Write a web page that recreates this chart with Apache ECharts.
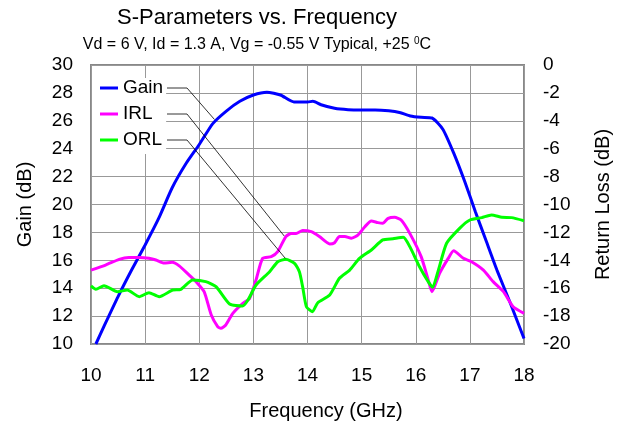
<!DOCTYPE html>
<html>
<head>
<meta charset="utf-8">
<script src="https://cdn.jsdelivr.net/npm/echarts@6/dist/echarts.min.js"></script>
<style>
  html, body { margin: 0; padding: 0; background: #fff; }
  #chart { width: 623px; height: 428px; }
</style>
</head>
<body>
<div id="chart"></div>
<script>
// frequency (GHz) / gain (dB)
const gainFreq = [10.09, 10.25, 10.5, 10.75, 11.0, 11.25, 11.5, 11.75, 12.0, 12.25, 12.5, 12.75, 13.0, 13.25,
  13.5, 13.75, 14.0, 14.1, 14.25, 14.5, 14.75, 15.0, 15.25, 15.5, 15.7, 15.9, 16.1, 16.3, 16.5, 16.7, 16.9,
  17.1, 17.3, 17.5, 17.75, 18.0];
const gainDb = [10.0, 11.35, 13.4, 15.3, 17.1, 19.0, 21.2, 22.9, 24.3, 25.8, 26.7, 27.4, 27.85, 28.05,
  27.85, 27.35, 27.35, 27.4, 27.15, 26.9, 26.8, 26.78, 26.78, 26.72, 26.6, 26.35, 26.25, 26.2, 25.4, 23.7, 21.7,
  19.5, 17.4, 15.3, 12.9, 10.4];

// input return loss (dB), right axis
const irlFreq = [10.0, 10.27, 10.52, 10.7, 10.9, 11.07, 11.2, 11.35, 11.5, 11.63, 11.81, 11.94, 12.09, 12.22,
  12.34, 12.4, 12.49, 12.62, 12.8, 12.93, 13.05, 13.17, 13.33, 13.45, 13.6, 13.7, 13.79, 13.91, 14.07, 14.22,
  14.41, 14.5, 14.59, 14.69, 14.81, 14.93, 15.06, 15.18, 15.3, 15.39, 15.49, 15.61, 15.73, 15.89, 16.1, 16.23,
  16.3, 16.44, 16.6, 16.7, 16.88, 17.03, 17.25, 17.43, 17.62, 17.8, 18.0];
const irlDb = [-14.7, -14.34, -13.93, -13.8, -13.8, -13.86, -13.98, -14.2, -14.14, -14.4, -15.05, -15.53, -16.25, -17.9,
  -18.75, -18.87, -18.64, -17.8, -17.1, -16.73, -15.4, -13.86, -13.74, -13.38, -12.3, -12.07, -12.07, -11.87, -11.95, -12.3,
  -12.83, -12.74, -12.3, -12.3, -12.42, -12.19, -11.59, -11.18, -11.3, -11.35, -10.99, -10.92, -11.11, -12.07, -13.74, -15.41,
  -16.25, -14.93, -13.86, -13.31, -13.86, -14.1, -14.7, -15.53, -16.25, -17.33, -17.8];

// output return loss (dB), right axis
const orlFreq = [10.0, 10.09, 10.24, 10.49, 10.67, 10.89, 11.07, 11.26, 11.51, 11.66, 11.88, 12.12, 12.31, 12.56,
  12.8, 12.9, 13.05, 13.3, 13.45, 13.6, 13.76, 13.85, 13.91, 13.98, 14.09, 14.19, 14.41, 14.59, 14.78, 14.96,
  15.18, 15.39, 15.58, 15.77, 15.89, 16.07, 16.23, 16.31, 16.41, 16.57, 16.81, 17.0, 17.22, 17.4, 17.59, 17.77, 18.0];
const orlDb = [-15.84, -16.08, -15.82, -16.25, -16.13, -16.61, -16.32, -16.61, -16.13, -16.08, -15.41, -15.53, -15.89, -17.13,
  -17.28, -16.85, -15.77, -14.82, -14.1, -13.93, -14.22, -14.82, -15.89, -17.33, -17.68, -17.04, -16.49, -15.29, -14.7, -13.86,
  -13.26, -12.54, -12.45, -12.35, -13.02, -14.46, -15.53, -15.94, -14.82, -12.78, -11.71, -11.11, -10.94, -10.75, -10.92, -10.94, -11.16];

// where the legend leader lines point to: [freq, value, yAxisIndex]
const leaderTargets = [[12.28, 26.1, 0], [13.57, -12.26, 1], [13.59, -13.86, 1]];

const FONT = 'Liberation Sans, Arial, sans-serif';
const zip = (xs, ys) => xs.map((x, i) => [x, ys[i]]);

const chart = echarts.init(document.getElementById('chart'));

const lineSeries = (name, data, color, yIdx) => ({
  name, type: 'line', yAxisIndex: yIdx, data,
  showSymbol: false, smooth: 0.2,
  lineStyle: { color, width: 3 }, itemStyle: { color }
});

const tickLabel = (margin) => ({ fontSize: 19, color: '#000', margin, fontFamily: FONT });
const axisName = { fontSize: 20, color: '#000', fontFamily: FONT };

chart.setOption({
  animation: false,
  backgroundColor: '#fff',
  textStyle: { fontFamily: FONT },
  grid: { left: 91, right: 99, top: 65, bottom: 84, show: true, borderColor: '#888', borderWidth: 2 },
  legend: {
    orient: 'vertical', left: 92, top: 78,
    padding: [0, 3, 4, 8], itemGap: 6,
    backgroundColor: '#fff',
    icon: 'rect', itemWidth: 18, itemHeight: 3,
    textStyle: { fontSize: 19, color: '#000', lineHeight: 20, fontFamily: FONT },
    data: ['Gain', 'IRL', 'ORL']
  },
  xAxis: {
    type: 'value', min: 10, max: 18, interval: 1,
    name: 'Frequency (GHz)', nameLocation: 'middle', nameGap: 57,
    nameTextStyle: Object.assign({ padding: [0, 0, 0, 37] }, axisName),
    axisLine: { show: false }, axisTick: { show: false },
    axisLabel: tickLabel(22),
    splitLine: { lineStyle: { color: '#999', width: 1 } }
  },
  yAxis: [{
    type: 'value', min: 10, max: 30, interval: 2, position: 'left',
    name: 'Gain (dB)', nameLocation: 'middle', nameGap: 56,
    nameTextStyle: axisName,
    axisLine: { show: false }, axisTick: { show: false },
    axisLabel: tickLabel(18),
    splitLine: { lineStyle: { color: '#999', width: 1 } }
  }, {
    type: 'value', min: -20, max: 0, interval: 2, position: 'right',
    name: 'Return Loss (dB)', nameLocation: 'middle', nameGap: 69,
    nameTextStyle: axisName,
    axisLine: { show: false }, axisTick: { show: false },
    axisLabel: tickLabel(19),
    splitLine: { show: false }
  }],
  series: [
    lineSeries('Gain', zip(gainFreq, gainDb), '#0000FF', 0),
    lineSeries('IRL', zip(irlFreq, irlDb), '#FF00FF', 1),
    lineSeries('ORL', zip(orlFreq, orlDb), '#00FF00', 1)
  ]
});

// title, subtitle and the leader lines from legend labels to the curves
const labelY = [88, 114, 140];
const leaders = leaderTargets.map((t, i) => {
  const p = chart.convertToPixel({ xAxisIndex: 0, yAxisIndex: t[2] }, [t[0], t[1]]);
  return {
    type: 'polyline', z: 100, silent: true,
    shape: { points: [[167, labelY[i]], [187, labelY[i]], p] },
    style: { stroke: '#000', lineWidth: 0.8, fill: null }
  };
});

chart.setOption({
  graphic: [
    {
      type: 'text', x: 257, y: 18, z: 100,
      style: { text: 'S-Parameters vs. Frequency', font: '22px ' + FONT, fill: '#000',
        textAlign: 'center', textVerticalAlign: 'middle' }
    },
    {
      type: 'text', x: 257, y: 45, z: 100,
      style: {
        text: 'Vd = 6 V, Id = 1.3 A, Vg = -0.55 V Typical, +25 {sup|0}C',
        font: '16px ' + FONT, fill: '#000', textAlign: 'center', textVerticalAlign: 'middle',
        rich: { sup: { fontSize: 10, fontFamily: FONT, verticalAlign: 'top', padding: [0, 0, 8, 0] } }
      }
    }
  ].concat(leaders)
});
</script>
</body>
</html>
